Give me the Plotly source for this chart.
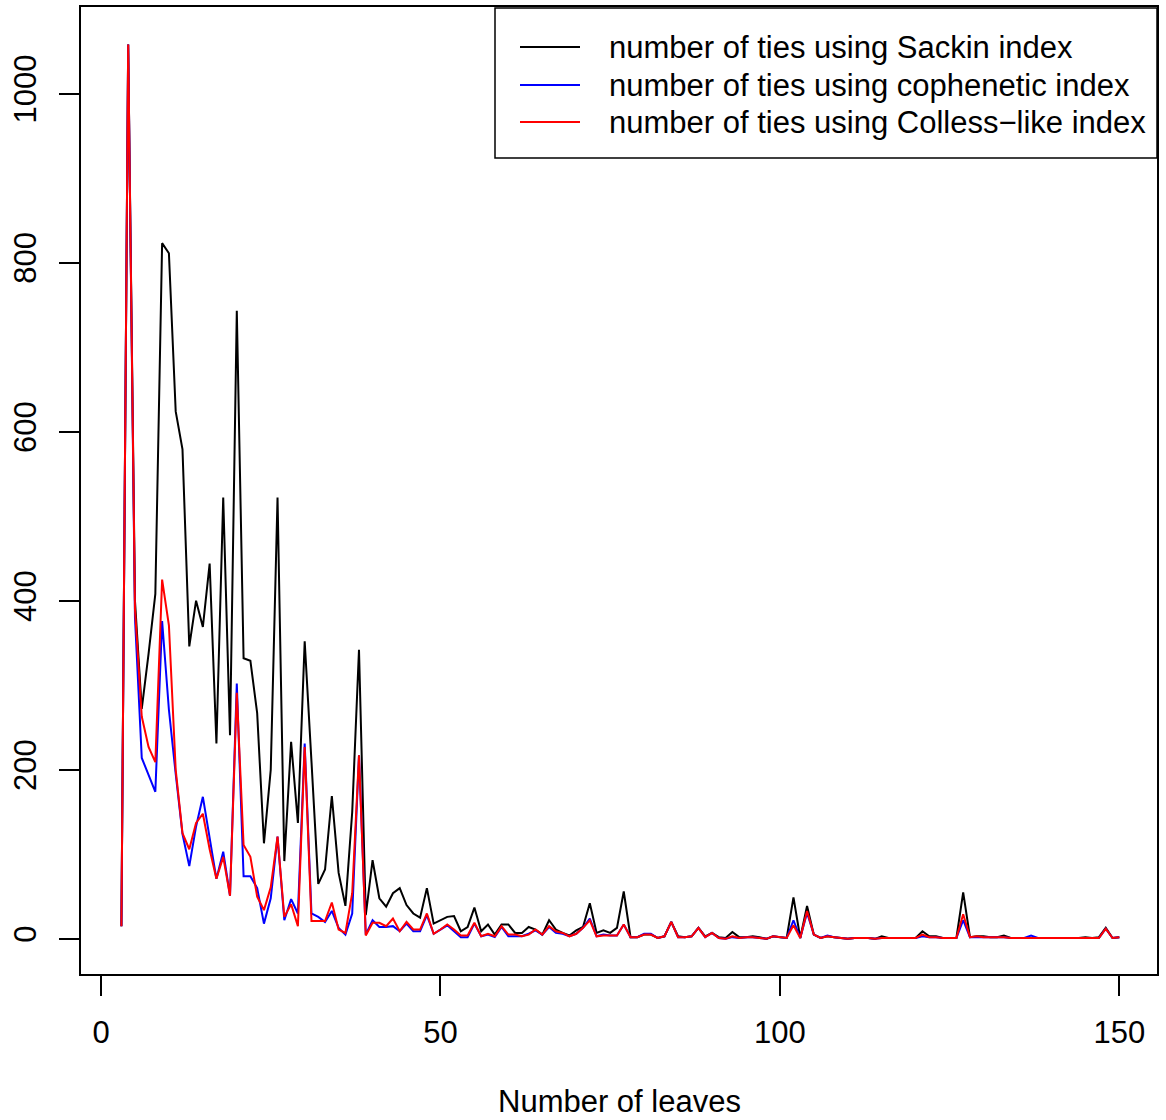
import plotly.graph_objects as go

leaves = list(range(3, 151))

sackin = [
    15, 1058, 400, 272, 337, 408, 823, 811, 624, 579,
    346, 400, 369, 444, 231, 522, 241, 743, 332, 329,
    267, 113, 200, 522, 92, 233, 137, 352, 210, 65,
    82, 169, 78, 39, 150, 342, 28, 93, 48, 38,
    54, 60, 40, 30, 25, 60, 18, 22, 26, 27,
    9, 14, 37, 9, 17, 5, 17, 17, 7, 7,
    14, 11, 5, 22, 11, 7, 4, 10, 14, 42,
    7, 10, 7, 13, 56, 2, 2, 5, 5, 1,
    3, 20, 3, 2, 3, 13, 3, 7, 2, 1,
    8, 2, 2, 3, 2, 0, 3, 2, 1, 49,
    1, 39, 5, 1, 3, 2, 1, 0, 1, 1,
    1, 0, 3, 1, 1, 1, 1, 1, 9, 3,
    3, 1, 1, 1, 55, 2, 3, 3, 2, 2,
    4, 1, 1, 1, 1, 1, 1, 1, 1, 1,
    1, 1, 2, 1, 2, 13, 1, 2,
]

cophenetic = [
    15, 1058, 380, 214, 194, 174, 376, 271, 195, 124,
    86, 133, 168, 117, 71, 103, 51, 302, 74, 74,
    60, 18, 48, 121, 22, 47, 30, 231, 30, 26,
    20, 33, 13, 5, 30, 217, 5, 22, 14, 14,
    15, 9, 18, 9, 9, 28, 6, 11, 16, 9,
    2, 2, 18, 3, 5, 2, 14, 3, 3, 3,
    6, 10, 5, 14, 7, 6, 3, 6, 13, 24,
    3, 5, 4, 4, 17, 2, 2, 6, 6, 1,
    3, 20, 2, 2, 3, 13, 2, 7, 1, 0,
    2, 1, 2, 2, 1, 0, 3, 2, 1, 22,
    1, 31, 5, 1, 4, 2, 1, 0, 1, 1,
    1, 0, 1, 1, 1, 1, 1, 1, 3, 2,
    2, 1, 1, 1, 22, 2, 2, 2, 2, 2,
    2, 1, 1, 1, 4, 1, 1, 1, 1, 1,
    1, 1, 1, 1, 1, 12, 1, 2,
]

colless = [
    15, 1058, 390, 263, 227, 209, 425, 371, 200, 125,
    106, 137, 148, 106, 71, 97, 51, 291, 111, 97,
    50, 34, 61, 121, 26, 41, 15, 227, 21, 21,
    21, 43, 11, 7, 54, 217, 4, 19, 19, 15,
    24, 9, 20, 11, 11, 30, 6, 11, 17, 11,
    4, 4, 19, 3, 6, 3, 15, 5, 5, 3,
    5, 11, 5, 15, 9, 7, 3, 6, 13, 22,
    3, 4, 4, 4, 17, 2, 2, 5, 5, 1,
    3, 20, 2, 2, 3, 13, 2, 7, 1, 0,
    3, 1, 2, 2, 1, 0, 3, 2, 1, 16,
    1, 33, 5, 1, 3, 2, 1, 0, 1, 1,
    1, 0, 1, 1, 1, 1, 1, 1, 5, 2,
    2, 1, 1, 1, 29, 2, 3, 2, 2, 2,
    2, 1, 1, 1, 1, 1, 1, 1, 1, 1,
    1, 1, 1, 1, 1, 12, 1, 2,
]

series_names = [
    "number of ties using Sackin index",
    "number of ties using cophenetic index",
    "number of ties using Colless\u2212like index",
]
series_colors = ["#000000", "#0000FF", "#FF0000"]
x_ticks = [0, 50, 100, 150]
y_ticks = [0, 200, 400, 600, 800, 1000]
x_title = "Number of leaves"

FONT = "Liberation Sans, Arial, Helvetica, sans-serif"
FS = 31

# plot area in pixels
L, R, T, B = 81, 1157, 7, 974
W, H = 1166, 1120


def px_x(p):
    return (p - L) / (R - L)


def px_y(p):
    return (B - p) / (B - T)


fig = go.Figure()
for vals, name, col in zip([sackin, cophenetic, colless], series_names, series_colors):
    fig.add_trace(go.Scatter(
        x=leaves, y=vals, mode="lines", name=name,
        line=dict(color=col, width=2), showlegend=False,
    ))

# legend drawn as a boxed key (R-style)
shapes = [dict(type="rect", xref="paper", yref="paper",
               x0=px_x(495), x1=px_x(1157), y0=px_y(158), y1=px_y(8),
               line=dict(color="black", width=1.5), fillcolor="white", layer="above")]
annotations = []
rows_y = [47, 85, 122]
for name, col, ry in zip(series_names, series_colors, rows_y):
    shapes.append(dict(type="line", xref="paper", yref="paper",
                       x0=px_x(520), x1=px_x(580), y0=px_y(ry), y1=px_y(ry),
                       line=dict(color=col, width=2), layer="above"))
    annotations.append(dict(text=name, xref="paper", yref="paper",
                            x=px_x(607), y=px_y(ry), xanchor="left", yanchor="middle",
                            showarrow=False, font=dict(family=FONT, size=FS, color="black")))

# x-axis title
annotations.append(dict(text=x_title, xref="paper", yref="paper",
                        x=0.5, y=px_y(1101), xanchor="center", yanchor="middle",
                        showarrow=False, font=dict(family=FONT, size=FS, color="black")))

fig.update_layout(
    width=W, height=H,
    margin=dict(l=L, r=W - R, t=T, b=H - B),
    paper_bgcolor="white", plot_bgcolor="white",
    font=dict(family=FONT, size=FS, color="black"),
    showlegend=False,
    shapes=shapes, annotations=annotations,
)

fig.update_xaxes(
    range=[-2.95, 155.55], tickvals=x_ticks, ticktext=[str(v) for v in x_ticks],
    showgrid=False, zeroline=False, automargin=False,
    showline=True, linecolor="black", linewidth=2, mirror=True,
    ticks="outside", ticklen=20, tickwidth=2, tickcolor="black",
    ticklabelstandoff=10,
    tickfont=dict(family=FONT, size=FS),
)
fig.update_yaxes(
    range=[-41.6, 1102.4], tickvals=y_ticks, ticktext=[str(v) for v in y_ticks],
    showgrid=False, zeroline=False, automargin=False,
    showline=True, linecolor="black", linewidth=2, mirror=True,
    ticks="outside", ticklen=20, tickwidth=2, tickcolor="black",
    tickangle=-90, ticklabelstandoff=11,
    tickfont=dict(family=FONT, size=FS),
)

fig.write_html("out.html", config={"displayModeBar": False},
               post_script="document.body.style.margin='0px';")
